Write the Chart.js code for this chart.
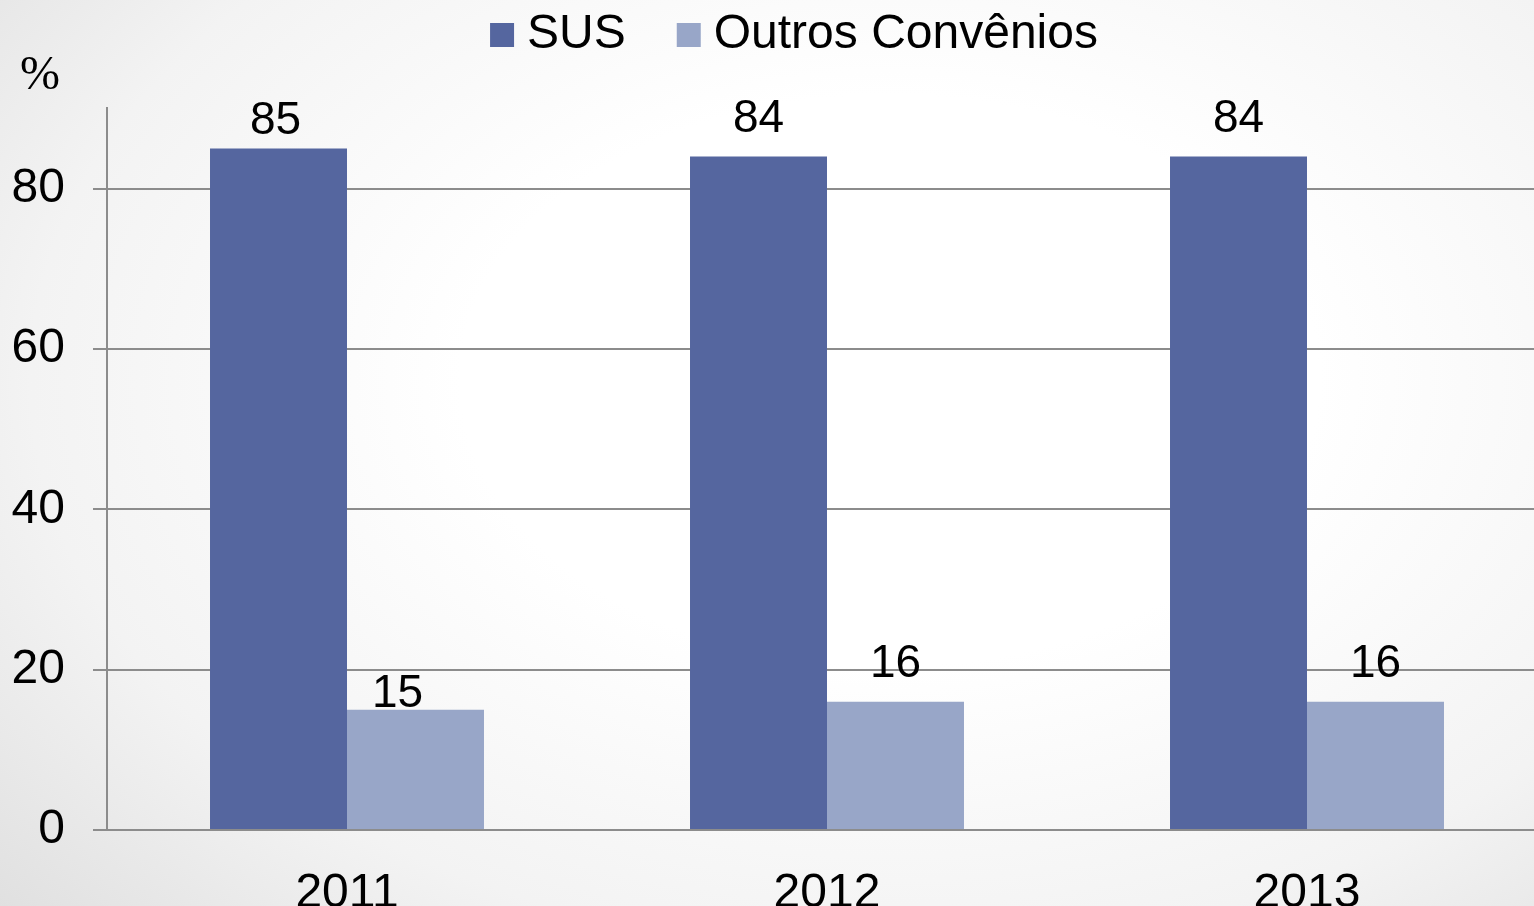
<!DOCTYPE html>
<html>
<head>
<meta charset="utf-8">
<script src="https://cdn.jsdelivr.net/npm/chart.js@4.4.0/dist/chart.umd.min.js"></script>
<style>
    html, body {
        margin: 0;
        padding: 0;
        width: 1534px;
        height: 906px;
        overflow: hidden;
        background: radial-gradient(ellipse 80% 90% at 58% 42%, #ffffff 35%, #f3f3f3 70%, #dedede 100%);
    }
    #wrap {
        position: absolute;
        left: 0;
        top: 0;
        width: 1547px;
        height: 906px;
    }
</style>
</head>
<body>
<div id="wrap"><canvas id="chart"></canvas></div>
<script>
    const years = ['2011', '2012', '2013'];
    const susValues = [85, 84, 84];
    const outrosValues = [15, 16, 16];
    const yTicks = [0, 20, 40, 60, 80];

    const fontSans = '"Liberation Sans", Arial, sans-serif';

    // rótulos de valor acima das barras
    const valueLabels = {
        id: 'valueLabels',
        afterDatasetsDraw(chart, args, opts) {
            const ctx = chart.ctx;
            ctx.save();
            ctx.fillStyle = '#000';
            ctx.font = '46px ' + fontSans;
            ctx.textAlign = 'center';
            ctx.textBaseline = 'middle';
            chart.data.datasets.forEach((ds, di) => {
                chart.getDatasetMeta(di).data.forEach((bar, i) => {
                    ctx.fillText(String(ds.data[i]), bar.x + opts.dx[di][i], bar.y - opts.lift[di][i]);
                });
            });
            ctx.restore();
        }
    };

    // desloca legenda e "%" para a posição do original
    const shiftBoxes = {
        id: 'shiftBoxes',
        afterLayout(chart) {
            chart.legend.left += 26;
            chart.legend.right += 26;
            chart.titleBlock.left += 20;
            chart.titleBlock.right += 20;
        }
    };

    new Chart(document.getElementById('chart'), {
        type: 'bar',
        data: {
            labels: years,
            datasets: [
                {
                    label: 'SUS',
                    data: susValues,
                    backgroundColor: '#55669F',
                    categoryPercentage: 0.5708,
                    barPercentage: 1
                },
                {
                    label: 'Outros Convênios',
                    data: outrosValues,
                    backgroundColor: '#98A6C8',
                    categoryPercentage: 0.5708,
                    barPercentage: 1
                }
            ]
        },
        options: {
            responsive: true,
            maintainAspectRatio: false,
            animation: false,
            layout: {
                padding: { top: -51, left: 0, right: 0, bottom: 0 }
            },
            scales: {
                x: {
                    grid: { display: false },
                    border: { display: true, color: '#8c8c8c', width: 2 },
                    ticks: {
                        color: '#000',
                        font: { family: fontSans, size: 48 },
                        padding: 27,
                        maxRotation: 0
                    },
                    afterFit(scale) {
                        scale.height = 76;
                    }
                },
                y: {
                    min: 0,
                    max: 90,
                    afterBuildTicks(scale) {
                        scale.ticks = yTicks.map(v => ({ value: v }));
                    },
                    grid: {
                        color: '#8c8c8c',
                        lineWidth: 2,
                        tickLength: 14,
                        drawTicks: true
                    },
                    border: { display: true, color: '#8c8c8c', width: 2 },
                    ticks: {
                        color: '#000',
                        font: { family: fontSans, size: 48 },
                        padding: 28
                    },
                    afterFit(scale) {
                        scale.width = 107;
                    }
                }
            },
            plugins: {
                legend: {
                    position: 'top',
                    labels: {
                        color: '#000',
                        font: { family: fontSans, size: 48 },
                        boxWidth: 2,
                        boxHeight: 2,
                        padding: 62,
                        generateLabels(chart) {
                            return Chart.defaults.plugins.legend.labels.generateLabels(chart).map(l => {
                                l.lineWidth = 22;
                                l.strokeStyle = l.fillStyle;
                                return l;
                            });
                        }
                    }
                },
                title: {
                    display: true,
                    text: '%',
                    align: 'start',
                    weight: 500,
                    color: '#000',
                    font: { family: '"Liberation Serif", "Times New Roman", serif', size: 48, weight: 'normal', lineHeight: 0.3 },
                    padding: { top: 0, bottom: 25 }
                },
                tooltip: { enabled: false },
                valueLabels: {
                    lift: [[27, 37, 37], [15, 37, 37]],
                    dx: [[-3, 0, 0], [-18, 0, 0]]
                }
            }
        },
        plugins: [valueLabels, shiftBoxes]
    });
</script>
</body>
</html>
